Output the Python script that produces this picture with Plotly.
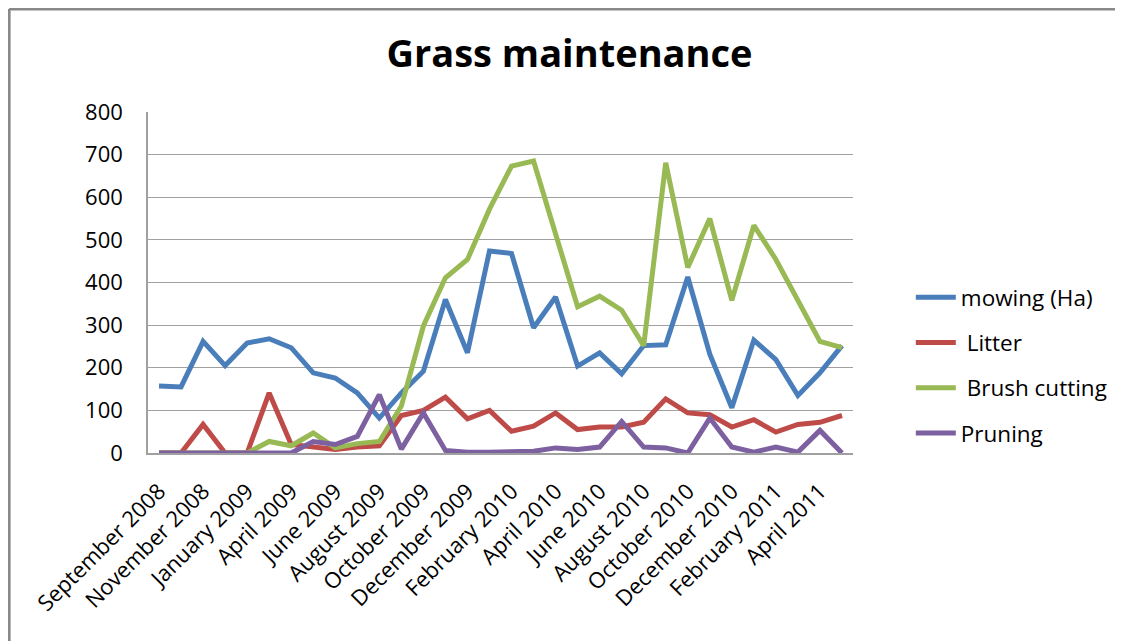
import plotly.graph_objects as go

months = ["September 2008", "October 2008", "November 2008", "December 2008",
          "January 2009", "March 2009", "April 2009", "May 2009", "June 2009",
          "July 2009", "August 2009", "September 2009", "October 2009",
          "November 2009", "December 2009", "January 2010", "February 2010",
          "March 2010", "April 2010", "May 2010", "June 2010", "July 2010",
          "August 2010", "September 2010", "October 2010", "November 2010",
          "December 2010", "January 2011", "February 2011", "March 2011",
          "April 2011", "May 2011"]

mowing = [157, 155, 262, 205, 258, 268, 247, 188, 176, 141, 82, 141, 192, 360,
          235, 474, 468, 294, 366, 204, 235, 186, 252, 254, 413, 232, 106, 265,
          219, 135, 188, 252]
litter = [0, 0, 67, 0, 0, 141, 20, 14, 8, 14, 17, 88, 100, 131, 80, 100, 51,
          63, 94, 55, 61, 61, 72, 127, 94, 90, 61, 78, 49, 67, 72, 88]
brush = [0, 0, 0, 0, 0, 27, 17, 47, 12, 22, 27, 110, 298, 411, 454, 572, 673,
         685, 517, 343, 368, 335, 252, 681, 435, 550, 358, 534, 454, 360, 262, 247]
pruning = [0, 0, 0, 0, 0, 0, 0, 27, 20, 39, 137, 9, 94, 6, 2, 2, 2, 4, 12, 8,
           14, 74, 14, 12, 0, 82, 14, 2, 14, 2, 53, 0]

series = [("mowing (Ha)", mowing, "#4A7EBB"),
          (" Litter", litter, "#BE4B48"),
          (" Brush cutting", brush, "#98B954"),
          ("Pruning", pruning, "#7D60A0")]

tick_labels = months[::2]

FONT = "'Open Sans', Lato, sans-serif"

fig = go.Figure()
for i, (name, vals, col) in enumerate(series):
    fig.add_trace(go.Scatter(x=months, y=vals, mode="lines", name=name,
                             legendgroup=str(i),
                             line=dict(color=col, width=5)))

fig.update_layout(
    width=1123, height=641,
    margin=dict(l=140, r=278, t=104, b=196),
    paper_bgcolor="white", plot_bgcolor="white",
    title=dict(text="<b>Grass maintenance</b>", x=0.5, xanchor="center",
               y=0.908, yanchor="bottom",
               font=dict(family=FONT, size=38, color="black")),
    font=dict(family=FONT, size=22, color="black"),
    showlegend=True,
    legend=dict(x=1.082, xanchor="left", y=0.258, yanchor="middle",
                font=dict(family=FONT, size=22.5, color="black"),
                tracegroupgap=13, itemwidth=40,
                bgcolor="rgba(0,0,0,0)"),
    shapes=[
        dict(type="line", xref="paper", yref="paper",
             x0=-0.197, x1=1.394, y0=1.302, y1=1.302,
             line=dict(color="#888888", width=3)),
        dict(type="line", xref="paper", yref="paper",
             x0=-0.197, x1=-0.197, y0=1.302, y1=-0.578,
             line=dict(color="#888888", width=3)),
    ],
)

fig.update_xaxes(
    type="category", categoryorder="array", categoryarray=months,
    tickmode="array", tickvals=tick_labels, ticktext=tick_labels,
    tickangle=-45, showgrid=False, showline=True, linecolor="#A0A0A0",
    linewidth=1.5, ticks="", ticklabelstandoff=15,
    tickfont=dict(family=FONT, size=22, color="black"),
    range=[-0.5, len(months) - 0.5],
)
fig.update_yaxes(
    range=[0, 800], dtick=100, showgrid=True, gridcolor="#A0A0A0",
    gridwidth=1.2, showline=True, linecolor="#A0A0A0", linewidth=1.5,
    zeroline=False, ticks="", ticklabelstandoff=19,
    tickfont=dict(family=FONT, size=22, color="black"),
)

fig.write_html("out.html")
